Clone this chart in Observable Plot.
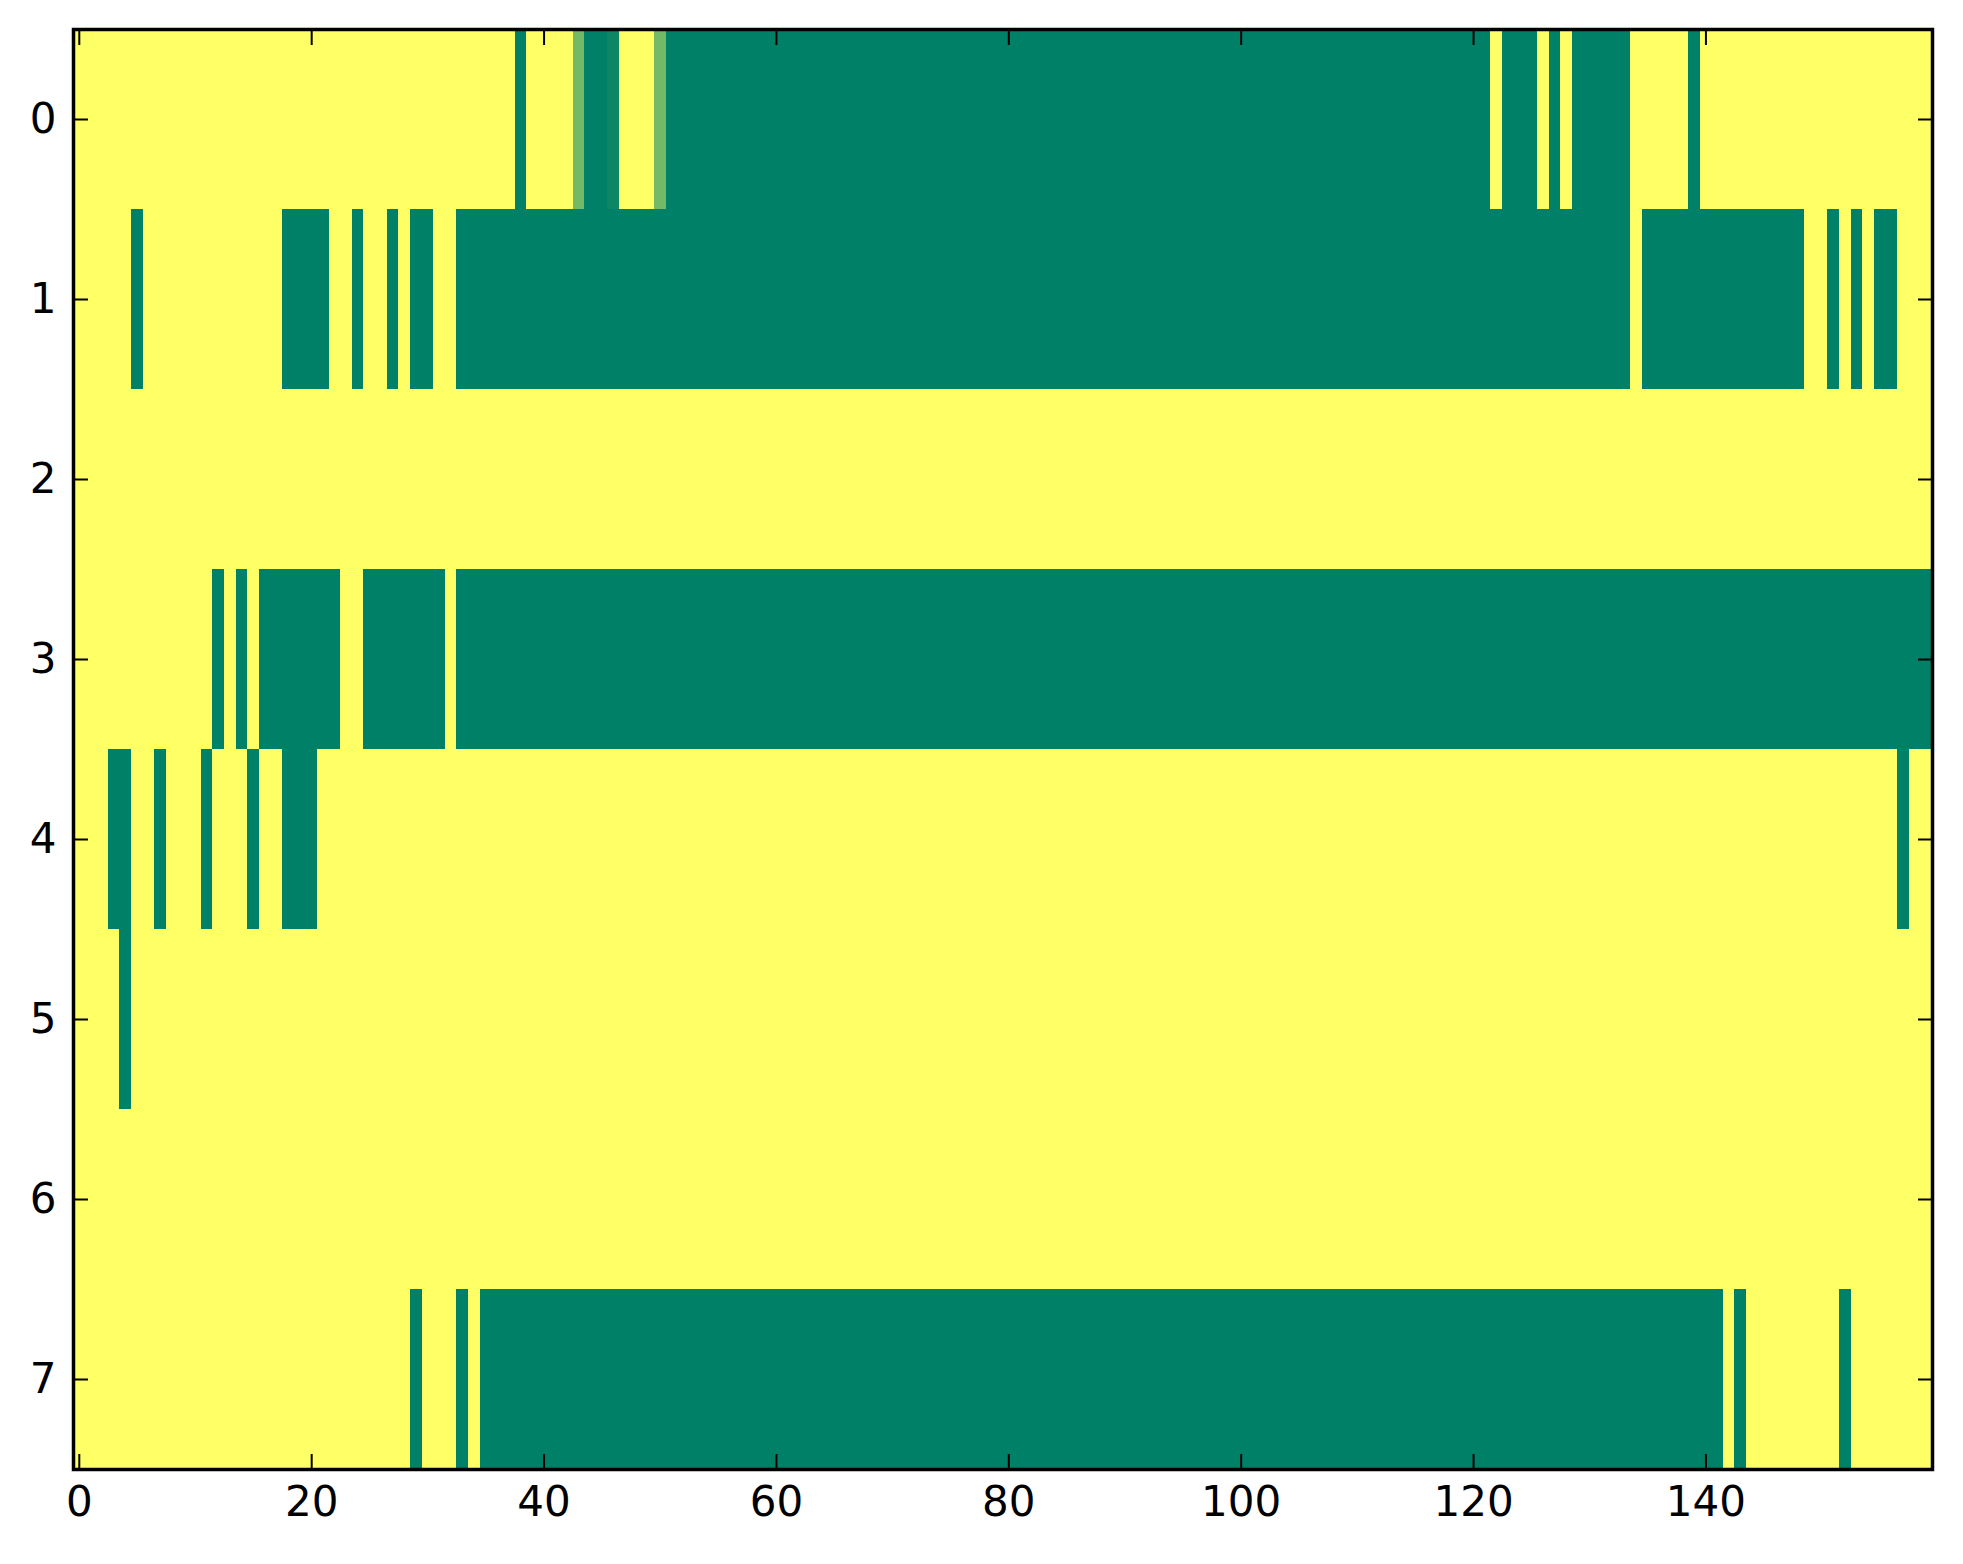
<!DOCTYPE html>
<html>
<head>
<meta charset="utf-8">
<script src="https://cdn.jsdelivr.net/npm/d3@7"></script>
<script src="https://cdn.jsdelivr.net/npm/@observablehq/plot@0.6"></script>
<style>
  body { margin: 0; background: #fff; }
</style>
</head>
<body>
<div id="chart"></div>
<script>
// each row as runs of [value, number of columns], 160 columns per row
const row0 = [[1,38],[0,1],[1,4],[0.45,1],[0,2],[0.05,1],[1,3],[0.45,1],[0,71],[1,1],[0,3],[1,1],[0,1],[1,1],[0,5],[1,5],[0,1],[1,20]]
const row1 = [[1,5],[0,1],[1,12],[0,4],[1,2],[0,1],[1,2],[0,1],[1,1],[0,2],[1,2],[0,101],[1,1],[0,14],[1,2],[0,1],[1,1],[0,1],[1,1],[0,2],[1,3]]
const row2 = [[1,160]]
const row3 = [[1,12],[0,1],[1,1],[0,1],[1,1],[0,7],[1,2],[0,7],[1,1],[0,127]]
const row4 = [[1,3],[0,2],[1,2],[0,1],[1,3],[0,1],[1,3],[0,1],[1,2],[0,3],[1,136],[0,1],[1,2]]
const row5 = [[1,4],[0,1],[1,155]]
const row6 = [[1,160]]
const row7 = [[1,29],[0,1],[1,3],[0,1],[1,1],[0,107],[1,1],[0,1],[1,8],[0,1],[1,7]]

const rowRuns = [row0, row1, row2, row3, row4, row5, row6, row7]
const nCols = 160
const xTicks = [0, 20, 40, 60, 80, 100, 120, 140]
const yTicks = [0, 1, 2, 3, 4, 5, 6, 7]

// expand runs into one cell per (row, col)
const cells = []
rowRuns.forEach((runs, row) => {
  let col = 0
  runs.forEach(([v, n]) => {
    for (let i = 0; i < n; i++) cells.push({row, col: col++, v})
  })
})

const font = 'DejaVu Sans, sans-serif'

let chart = Plot.plot({
  width: 1963,
  height: 1564,
  marginLeft: 73,
  marginRight: 31,
  marginTop: 29,
  marginBottom: 95,
  style: {background: '#fff', fontFamily: font, color: 'black'},
  x: {type: 'band', domain: d3.range(nCols), padding: 0, axis: null},
  y: {type: 'band', domain: yTicks, padding: 0, axis: null},
  // matplotlib "summer" colormap
  color: {type: 'linear', domain: [0, 1], range: ['#008066', '#ffff66'], interpolate: 'rgb'},
  marks: [
    Plot.cell(cells, {x: 'col', y: 'row', fill: 'v', inset: 0, shapeRendering: 'crispEdges'}),
    Plot.axisX(xTicks, {anchor: 'bottom', tickSize: -15, tickPadding: 32, strokeWidth: 2, fontSize: 42, label: null}),
    Plot.axisX(xTicks, {anchor: 'top', tickSize: -15, tickFormat: () => '', strokeWidth: 2, label: null}),
    Plot.axisY(yTicks, {anchor: 'left', tickSize: -15, tickPadding: 32, strokeWidth: 2, fontSize: 42, label: null}),
    Plot.axisY(yTicks, {anchor: 'right', tickSize: -15, tickFormat: () => '', strokeWidth: 2, label: null}),
    Plot.frame({stroke: 'black', strokeWidth: 3.5})
  ]
})

d3.select('#chart').append(() => chart)
</script>
</body>
</html>
